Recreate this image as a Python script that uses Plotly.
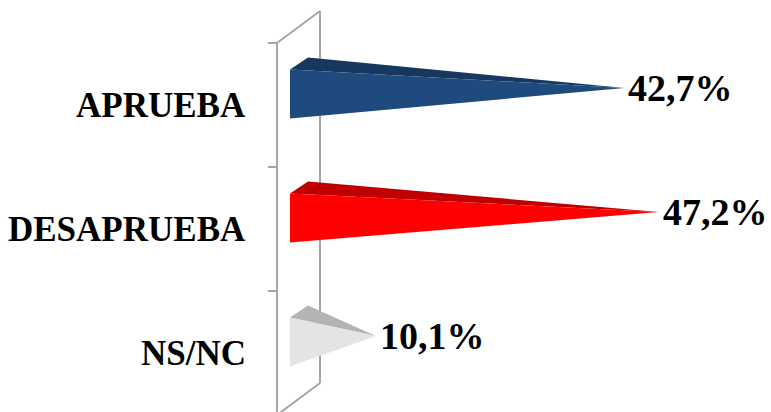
import plotly.graph_objects as go

# ---- data ----
categories = ["APRUEBA", "DESAPRUEBA", "NS/NC"]
values = [42.7, 47.2, 10.1]
value_labels = ["42,7%", "47,2%", "10,1%"]

front_colors = ["#1F4A7E", "#FF0000", "#E4E4E4"]
top_colors = ["#17375F", "#C00000", "#B4B4B4"]

W, H = 771, 412
X0_PX = 299.0        # pixel of 0 % (mid depth)
PX_PER_PCT = 7.62
Y0_PX = 105.0        # pixel of first category centre
PX_PER_CAT = 124.0

def px2v(px):
    return (px - X0_PX) / PX_PER_PCT

def py2u(py):
    return (py - Y0_PX) / PX_PER_CAT

# 3D projection offsets (data units)
DX = 9.0 / PX_PER_PCT      # half depth, horizontal
DY = 6.0 / PX_PER_CAT      # half depth, vertical
HALF = 24.5 / PX_PER_CAT   # half bar thickness
MID = -17.0 / PX_PER_CAT   # bar centre offset from band centre

FONT = "Liberation Serif, Times New Roman, serif"

fig = go.Figure()

for i, (cat, v) in enumerate(zip(categories, values)):
    c = i + MID
    # top (visible) face
    fig.add_trace(go.Scatter(
        x=[-DX, DX, v, -DX],
        y=[c + DY - HALF, c - DY - HALF, c, c + DY - HALF],
        fill="toself", fillcolor=top_colors[i], mode="lines",
        line=dict(width=0, color=top_colors[i]), hoverinfo="skip", showlegend=False))
    # front face
    fig.add_trace(go.Scatter(
        x=[-DX, -DX, v, -DX],
        y=[c + DY - HALF, c + DY + HALF, c, c + DY - HALF],
        fill="toself", fillcolor=front_colors[i], mode="lines",
        line=dict(width=0, color=front_colors[i]), hoverinfo="skip", showlegend=False))
    fig.add_annotation(x=v, y=c, text="<b>%s</b>" % value_labels[i], showarrow=False,
                       xanchor="left", yanchor="middle", xshift=2, yshift=0,
                       font=dict(family=FONT, size=38, color="black"))
    fig.add_annotation(x=px2v(248), y=i, text="<b>%s</b>" % cat, showarrow=False,
                       xanchor="right", yanchor="middle", yshift=0,
                       font=dict(family=FONT, size=35, color="black"))

# walls (axis frame)
vf, vb = px2v(277), px2v(320)
wall_dy = 32.0 / PX_PER_CAT
n = len(categories)
top_u, bot_u = -0.5, n - 0.5
wall_x = [vf, vf, None, vb, vb, None, vf, vb, None, vf, vb]
wall_y = [top_u, bot_u + 0.05, None, top_u - wall_dy, bot_u - wall_dy, None,
          top_u, top_u - wall_dy, None, bot_u, bot_u - wall_dy]
for k in range(n + 1):
    wall_x += [None, px2v(268), vf]
    wall_y += [None, top_u + k, top_u + k]
fig.add_trace(go.Scatter(x=wall_x, y=wall_y, mode="lines",
                         line=dict(color="#A6A6A6", width=2), hoverinfo="skip",
                         showlegend=False))
# put walls behind bars
fig.data = (fig.data[-1],) + fig.data[:-1]

fig.update_layout(
    width=W, height=H, margin=dict(l=0, r=0, t=0, b=0),
    paper_bgcolor="white", plot_bgcolor="white",
    xaxis=dict(range=[px2v(0), px2v(W)], visible=False, fixedrange=True),
    yaxis=dict(range=[py2u(H), py2u(0)], visible=False, fixedrange=True),
    showlegend=False,
)

fig.write_html("out.html", config={"displayModeBar": False},
               post_script="document.body.style.margin='0';document.body.style.overflow='hidden';")
